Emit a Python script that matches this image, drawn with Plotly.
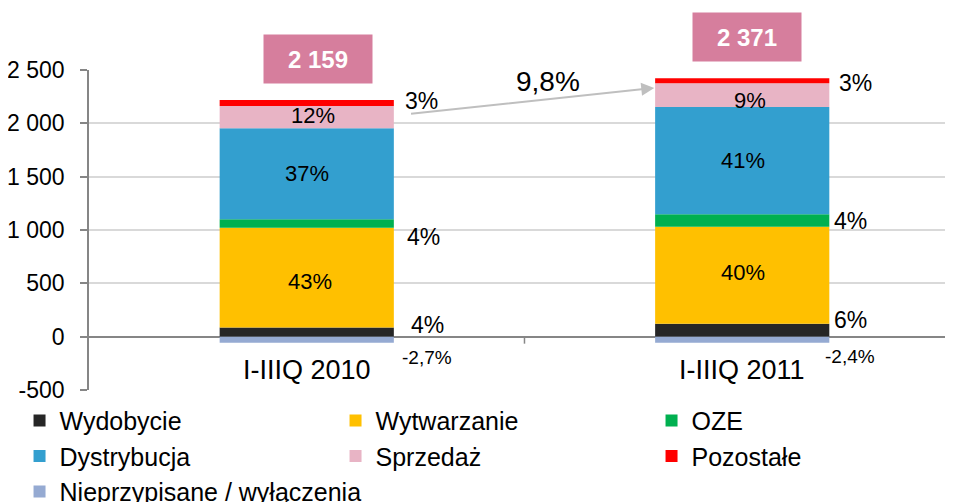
import plotly.graph_objects as go

# ---------------- data ----------------
categories = ["I-IIIQ 2010", "I-IIIQ 2011"]
series_names = ["Wydobycie", "Wytwarzanie", "OZE", "Dystrybucja", "Sprzedaż", "Pozostałe",
                "Nieprzypisane / wyłączenia"]
wydobycie = [85, 120]
wytwarzanie = [935, 911]
oze = [80, 116]
dystrybucja = [855, 1006]
sprzedaz = [207, 222]
pozostale = [57, 47]
nieprzypisane = [-58, -57]
totals = [2159, 2371]
total_labels = ["2 159", "2 371"]

pct_wydobycie = ["4%", "6%"]
pct_wytwarzanie = ["43%", "40%"]
pct_oze = ["4%", "4%"]
pct_dystrybucja = ["37%", "41%"]
pct_sprzedaz = ["12%", "9%"]
pct_pozostale = ["3%", "3%"]
pct_nieprzypisane = ["-2,7%", "-2,4%"]
growth_label = "9,8%"

y_ticks = [-500, 0, 500, 1000, 1500, 2000, 2500]
y_tick_labels = ["-500", "0", "500", "1 000", "1 500", "2 000", "2 500"]

# ---------------- styles ----------------
FONT = "Liberation Sans, Arial, sans-serif"
colors = ["#262626", "#FFC000", "#00B050", "#339FCF", "#E8B4C5", "#FF0000", "#95AAD2"]
values = [wydobycie, wytwarzanie, oze, dystrybucja, sprzedaz, pozostale, nieprzypisane]
pcts = [pct_wydobycie, pct_wytwarzanie, pct_oze, pct_dystrybucja, pct_sprzedaz, pct_pozostale,
        pct_nieprzypisane]
# label placement: (inside?, [(xshift, yshift) per category], font size)
placement = [
    (False, [(15, 7), (3, 10)], 23),
    (True, [(3, -4), (1, 3)], 22),
    (False, [(11, -13), (3, 0)], 23),
    (True, [(0, 0), (1, 0)], 22),
    (True, [(6, 2), (8, -5)], 22),
    (False, [(9, 2), (8, -2)], 23),
    (False, [(6, -18), (-6, -17)], 19),
]

BAR_W = 0.4
xs = list(range(len(categories)))

fig = go.Figure()
for name, vals, col in zip(series_names, values, colors):
    fig.add_trace(go.Bar(
        x=xs, y=vals, name=name, marker=dict(color=col, line=dict(width=0)),
        width=BAR_W, hoverinfo="skip",
    ))

annotations = []
# percentage labels
for si, (vals, labels, (inside, shifts, fs)) in enumerate(zip(values, pcts, placement)):
    for ci in xs:
        if vals[ci] >= 0:
            base = sum(values[k][ci] for k in range(si) if values[k][ci] >= 0)
        else:
            base = 0
        mid = base + vals[ci] / 2
        xsft, ysft = shifts[ci]
        if inside:
            annotations.append(dict(x=ci, y=mid, text=labels[ci], showarrow=False,
                                    xanchor="center", yanchor="middle", xshift=xsft, yshift=ysft,
                                    font=dict(size=fs, color="#000000", family=FONT)))
        else:
            annotations.append(dict(x=ci + BAR_W / 2, y=mid, text=labels[ci], showarrow=False,
                                    xanchor="left", yanchor="middle", xshift=xsft, yshift=ysft,
                                    font=dict(size=fs, color="#000000", family=FONT)))

# totals boxes
tops = [sum(v[ci] for v in values if v[ci] > 0) for ci in xs]
box_xshift = [11, 5]
for ci in xs:
    annotations.append(dict(x=ci, y=tops[ci], text="<b>%s</b>" % total_labels[ci], showarrow=False,
                            xanchor="center", yanchor="bottom", yshift=16, xshift=box_xshift[ci],
                            bgcolor="#D67E9D", width=104, height=44, borderpad=2,
                            font=dict(size=24, color="#FFFFFF", family=FONT)))

# category labels
for ci in xs:
    annotations.append(dict(x=ci, y=0, text=categories[ci], showarrow=False,
                            xanchor="center", yanchor="middle", yshift=-33,
                            font=dict(size=27, color="#000000", family=FONT)))

# growth arrow
tail_x = BAR_W / 2 + 0.036
tail_y = tops[0] - 131
head_x = 1 - BAR_W / 2 - 0.002
head_y = tops[1] - 90
annotations.append(dict(x=head_x, y=head_y, ax=tail_x, ay=tail_y, axref="x", ayref="y",
                        xref="x", yref="y", text="", showarrow=True, arrowhead=2, arrowsize=1.3,
                        arrowwidth=2, arrowcolor="#BFBFBF", standoff=0, startstandoff=0))
annotations.append(dict(x=(tail_x + head_x) / 2, y=(tail_y + head_y) / 2, text=growth_label,
                        showarrow=False, xanchor="center", yanchor="middle", xshift=16, yshift=19,
                        font=dict(size=28, color="#000000", family=FONT)))

shapes = [dict(type="line", xref="x", yref="y", x0=0.5, x1=0.5, ysizemode="pixel", yanchor=0,
               y0=0, y1=-7, line=dict(color="#868686", width=1.5))]

fig.update_layout(
    width=953, height=502,
    margin=dict(l=81, r=8, t=62, b=120, autoexpand=False),
    barmode="relative",
    plot_bgcolor="#FFFFFF", paper_bgcolor="#FFFFFF",
    separators=", ",
    font=dict(family=FONT, color="#000000"),
    annotations=annotations,
    shapes=shapes,
    showlegend=True,
    legend=dict(orientation="h", x=-0.0804, xanchor="left", y=-0.0244, yanchor="top",
                font=dict(size=25, family=FONT, color="#000000"),
                entrywidth=271, entrywidthmode="pixels", itemwidth=30,
                traceorder="normal", bgcolor="rgba(0,0,0,0)"),
    xaxis=dict(range=[-0.5, 1.484], showticklabels=False, showgrid=False, zeroline=False,
               showline=False, ticks="", fixedrange=True),
    yaxis=dict(range=[-500, 2500], tickvals=y_ticks, ticktext=y_tick_labels, showgrid=True,
               gridcolor="#D9D9D9", gridwidth=1.5, zeroline=True, zerolinecolor="#868686",
               zerolinewidth=1.5, showline=True, linecolor="#868686", linewidth=1.5,
               ticks="outside", ticklen=7, tickcolor="#868686", tickwidth=1.5,
               ticklabelstandoff=11,
               tickfont=dict(size=23, family=FONT, color="#000000")),
)

fig.write_html("out.html")
